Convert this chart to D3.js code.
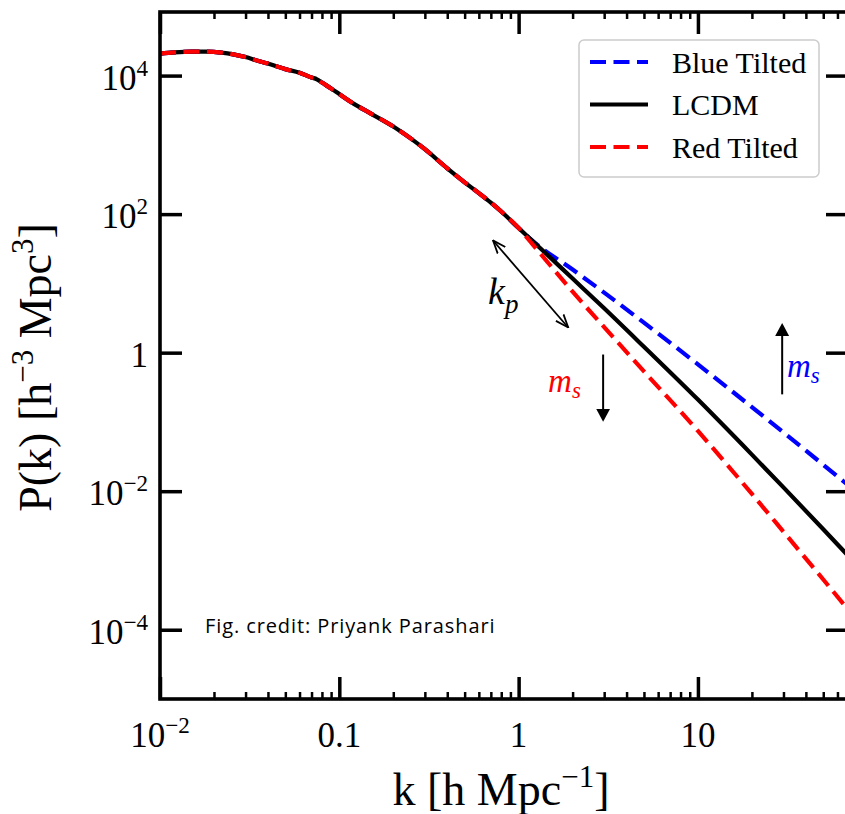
<!DOCTYPE html>
<html>
<head>
<meta charset="utf-8">
<script src="https://cdn.jsdelivr.net/npm/d3@7"></script>
<style>
body { margin: 0; background: #fff; }
svg { display: block; }
text { font-family: "Liberation Serif", "Times New Roman", serif; }
</style>
</head>
<body>
<div id="chart"></div>
<script>
// k [h/Mpc] where the three spectra are on top of each other
const kShared = [0.01, 0.012, 0.015, 0.018, 0.022, 0.026, 0.03, 0.035, 0.04, 0.045, 0.05,
                 0.06, 0.07, 0.075, 0.08, 0.09, 0.1, 0.12, 0.15, 0.2, 0.25, 0.3, 0.4,
                 0.5, 0.6, 0.7, 0.8, 1.0];
const pShared = [2.07e4, 2.16e4, 2.22e4, 2.22e4, 2.15e4, 2.01e4, 1.85e4, 1.64e4, 1.49e4, 1.35e4, 1.24e4,
                 1.10e4, 9.36e3, 8.85e3, 7.93e3, 6.53e3, 5.41e3, 3.94e3, 2.83e3, 1.84e3, 1.24e3, 865, 458,
                 288, 201, 147, 109, 63];

// past the pivot they split
const kTail = [1.2, 2, 3, 5, 10, 20, 30, 50, 68];
const pBlue = [40.8, 15.85, 7.35, 2.71, 0.678, 0.1637, 0.0705, 0.0241, 0.01253];
const pLcdm = [40.7, 11.75, 4.37, 1.216, 0.210, 0.0337, 0.01135, 2.82e-3, 1.21e-3];
const pRed  = [36.3, 7.59, 2.34, 0.537, 0.0741, 9.12e-3, 2.60e-3, 5.31e-4, 2.02e-4];

const seriesNames = ["Blue Tilted", "LCDM", "Red Tilted"];
const seriesColors = ["#0000ff", "#000000", "#ff0000"];

const xMajor = [0.01, 0.1, 1, 10];
const xTickLabels = [["10", "−2"], ["0.1", ""], ["1", ""], ["10", ""]];
const yMajor = [1e-4, 1e-2, 1, 1e2, 1e4];
const yTickLabels = [["10", "−4"], ["10", "−2"], ["1", ""], ["10", "2"], ["10", "4"]];

//==========================================================
const width_svg = 845, height_svg = 814;
const margin = {top: 12, left: 160, right: -3, bottom: 115};
const width = width_svg - margin.left - margin.right;
const height = height_svg - margin.top - margin.bottom;

const svg = d3.select("#chart").append("svg")
    .attr("width", width_svg)
    .attr("height", height_svg);

const g = svg.append("g").attr("transform", `translate(${margin.left},${margin.top})`);

const x = d3.scaleLog().domain([0.01, 68.7]).range([0, width]);
const y = d3.scaleLog().domain([1e-5, 8.28e4]).range([height, 0]);

svg.append("defs").append("clipPath").attr("id", "clip")
    .append("rect").attr("width", width).attr("height", height);

//build the three series
const series = [pBlue, pLcdm, pRed].map((tail, i) => ({
    name: seriesNames[i],
    color: seriesColors[i],
    dashed: i !== 1,
    values: kShared.map((k, j) => ({k: k, p: pShared[j]}))
        .concat(kTail.map((k, j) => ({k: k, p: tail[j]})))
}));

const line = d3.line()
    .x(d => x(d.k))
    .y(d => y(d.p))
    .curve(d3.curveMonotoneX);

g.append("g").attr("clip-path", "url(#clip)")
  .selectAll("path")
  .data(series)
  .enter()
  .append("path")
    .attr("d", s => line(s.values))
    .attr("fill", "none")
    .attr("stroke", s => s.color)
    .attr("stroke-width", 4.2)
    .attr("stroke-dasharray", s => s.dashed ? "16,7.5" : null);

//==========================================================
//ticks, all pointing in
const minor = x.ticks().filter(t => !xMajor.includes(t));

function styleTicks(sel, w) {
    sel.select(".domain").remove();
    sel.selectAll("line").attr("stroke-width", w);
}

g.append("g").attr("transform", `translate(0,${height})`)
  .call(d3.axisBottom(x).tickValues(minor).tickSizeInner(-7).tickSizeOuter(0).tickFormat(""))
  .call(styleTicks, 2.5);
g.append("g").attr("transform", `translate(0,${height})`)
  .call(d3.axisBottom(x).tickValues(xMajor).tickSizeInner(-22).tickSizeOuter(0).tickFormat(""))
  .call(styleTicks, 3.5);
g.append("g")
  .call(d3.axisTop(x).tickValues(minor).tickSizeInner(-7).tickSizeOuter(0).tickFormat(""))
  .call(styleTicks, 2.5);
g.append("g")
  .call(d3.axisTop(x).tickValues(xMajor).tickSizeInner(-22).tickSizeOuter(0).tickFormat(""))
  .call(styleTicks, 3.5);
g.append("g")
  .call(d3.axisLeft(y).tickValues(yMajor).tickSizeInner(-22).tickSizeOuter(0).tickFormat(""))
  .call(styleTicks, 3.5);
g.append("g").attr("transform", `translate(${width},0)`)
  .call(d3.axisRight(y).tickValues(yMajor).tickSizeInner(-22).tickSizeOuter(0).tickFormat(""))
  .call(styleTicks, 3.5);

//frame
g.append("rect")
    .attr("width", width).attr("height", height)
    .attr("fill", "none").attr("stroke", "#000").attr("stroke-width", 3.6);

//tick labels with superscripts
function supText(sel, base, sup, size) {
    sel.append("tspan").text(base);
    if (sup) sel.append("tspan").attr("dy", -size * 0.4).attr("font-size", size * 0.66).text(sup);
}

xMajor.forEach((v, i) => {
    g.append("text")
        .attr("x", x(v)).attr("y", height + 48)
        .attr("text-anchor", "middle")
        .attr("font-size", 35)
        .call(supText, xTickLabels[i][0], xTickLabels[i][1], 35);
});

yMajor.forEach((v, i) => {
    g.append("text")
        .attr("x", -12).attr("y", y(v) + 14)
        .attr("text-anchor", "end")
        .attr("font-size", 35)
        .call(supText, yTickLabels[i][0], yTickLabels[i][1], 35);
});

//axis titles
const xTitle = g.append("text")
    .attr("x", width / 2 - 3).attr("y", height + 106)
    .attr("text-anchor", "middle")
    .attr("font-size", 46);
xTitle.append("tspan").text("k [h Mpc");
xTitle.append("tspan").attr("dy", -18).attr("font-size", 31).text("−1");
xTitle.append("tspan").attr("dy", 18).text("]");

const yTitle = g.append("text")
    .attr("transform", `translate(-109,${height / 2 + 12}) rotate(-90)`)
    .attr("text-anchor", "middle")
    .attr("font-size", 46);
yTitle.append("tspan").text("P(k) [h");
yTitle.append("tspan").attr("dy", -18).attr("font-size", 31).text("−3");
yTitle.append("tspan").attr("dy", 18).text(" Mpc");
yTitle.append("tspan").attr("dy", -18).attr("font-size", 31).text("3");
yTitle.append("tspan").attr("dy", 18).text("]");

//==========================================================
//legend
const legend = g.append("g").attr("transform", "translate(419,28)");
legend.append("rect")
    .attr("width", 240).attr("height", 137)
    .attr("rx", 5)
    .attr("fill", "#fff").attr("fill-opacity", 0.85)
    .attr("stroke", "#cccccc").attr("stroke-width", 1.5);

series.forEach((s, i) => {
    const row = 22 + i * 42.5;
    legend.append("line")
        .attr("x1", 11).attr("x2", 69)
        .attr("y1", row).attr("y2", row)
        .attr("stroke", s.color).attr("stroke-width", 4.2)
        .attr("stroke-dasharray", s.dashed ? "16,7.5" : null);
    legend.append("text")
        .attr("x", 93).attr("y", row + 10.5)
        .attr("font-size", 30)
        .text(s.name);
});

//==========================================================
//annotations (placed in data coords)
const defs = svg.select("defs");
defs.append("marker").attr("id", "open")
    .attr("viewBox", "0 0 14 12").attr("refX", 13).attr("refY", 6)
    .attr("markerWidth", 14).attr("markerHeight", 12)
    .attr("markerUnits", "userSpaceOnUse")
    .attr("orient", "auto-start-reverse")
  .append("path").attr("d", "M0,1 L13,6 L0,11")
    .attr("fill", "none").attr("stroke", "#000").attr("stroke-width", 1.8);
defs.append("marker").attr("id", "solid")
    .attr("viewBox", "0 0 13 14").attr("refX", 1).attr("refY", 7)
    .attr("markerWidth", 13).attr("markerHeight", 14)
    .attr("markerUnits", "userSpaceOnUse")
    .attr("orient", "auto")
  .append("path").attr("d", "M0,0 L13,7 L0,14 Z").attr("fill", "#000");

//pivot scale arrow
g.append("line")
    .attr("x1", x(0.72)).attr("y1", y(41.6))
    .attr("x2", x(1.89)).attr("y2", y(2.31))
    .attr("stroke", "#000").attr("stroke-width", 1.8)
    .attr("marker-start", "url(#open)").attr("marker-end", "url(#open)");

const kp = g.append("text")
    .attr("x", x(0.675)).attr("y", y(4.97))
    .attr("font-size", 38).attr("font-style", "italic");
kp.append("tspan").text("k");
kp.append("tspan").attr("dy", 9).attr("font-size", 27).text("p");

//red tilt: arrow down
g.append("line")
    .attr("x1", x(2.96)).attr("y1", y(0.94))
    .attr("x2", x(2.96)).attr("y2", y(0.15))
    .attr("stroke", "#000").attr("stroke-width", 2)
    .attr("marker-end", "url(#solid)");
const msRed = g.append("text")
    .attr("x", x(1.46)).attr("y", y(0.267))
    .attr("font-size", 33).attr("font-style", "italic").attr("fill", "#ff0000");
msRed.append("tspan").text("m");
msRed.append("tspan").attr("dy", 6).attr("font-size", 23).text("s");

//blue tilt: arrow up
g.append("line")
    .attr("x1", x(29.5)).attr("y1", y(0.25))
    .attr("x2", x(29.5)).attr("y2", y(1.8))
    .attr("stroke", "#000").attr("stroke-width", 2)
    .attr("marker-end", "url(#solid)");
const msBlue = g.append("text")
    .attr("x", x(31.4)).attr("y", y(0.44))
    .attr("font-size", 33).attr("font-style", "italic").attr("fill", "#0000ff");
msBlue.append("tspan").text("m");
msBlue.append("tspan").attr("dy", 6).attr("font-size", 23).text("s");

g.append("text")
    .attr("x", 45).attr("y", 621)
    .style("font-family", "'Open Sans', sans-serif")
    .style("letter-spacing", "0.9px")
    .attr("font-size", 20)
    .text("Fig. credit: Priyank Parashari");
</script>
</body>
</html>
